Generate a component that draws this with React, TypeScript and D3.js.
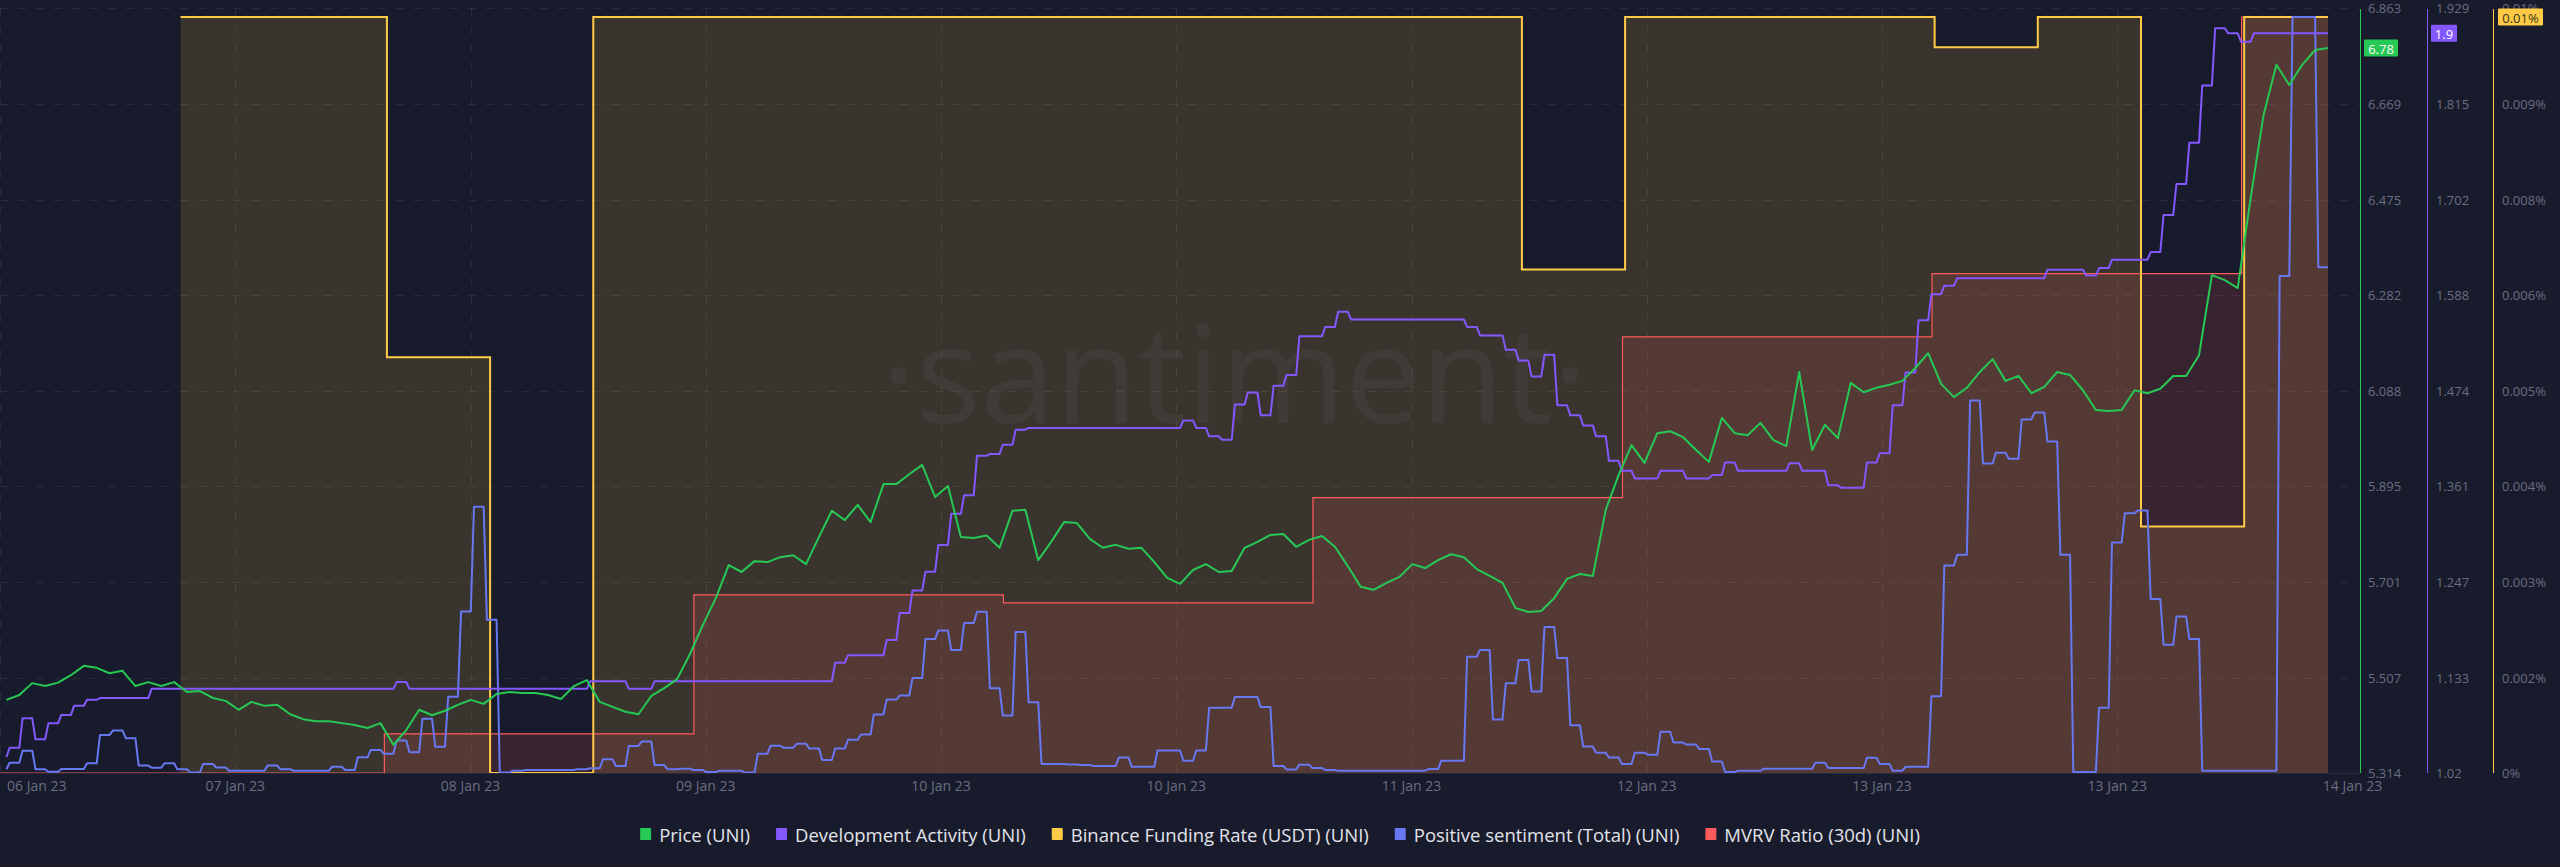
import React, { useMemo } from "react";
import * as d3 from "d3";

// ── Time grid ──────────────────────────────────────────────────────────────
const HOUR = 3600 * 1000;
const T0 = Date.UTC(2023, 0, 7, 0, 0); // first hourly sample
const X_START = T0 - 0.5 * HOUR;
const X_END = T0 + 180 * HOUR;
const X_TICK_STEP = 18.24 * HOUR;
const FUNDING_START = T0 + 13.5 * HOUR; // 8h funding periods
const MVRV_START = Date.UTC(2023, 0, 6, 5, 18); // daily values

// ── Data ───────────────────────────────────────────────────────────────────
const xTickLabels = [
  "06 Jan 23", "07 Jan 23", "08 Jan 23", "09 Jan 23", "10 Jan 23", "10 Jan 23",
  "11 Jan 23", "12 Jan 23", "13 Jan 23", "13 Jan 23", "14 Jan 23",
];
const priceTickLabels = ["5.314", "5.507", "5.701", "5.895", "6.088", "6.282", "6.475", "6.669", "6.863"];
const devTickLabels = ["1.02", "1.133", "1.247", "1.361", "1.474", "1.588", "1.702", "1.815", "1.929"];
const fundingTickLabels = ["0%", "0.002%", "0.003%", "0.004%", "0.005%", "0.006%", "0.008%", "0.009%", "0.01%"];

const seriesNames = [
  "Price (UNI)",
  "Development Activity (UNI)",
  "Binance Funding Rate (USDT) (UNI)",
  "Positive sentiment (Total) (UNI)",
  "MVRV Ratio (30d) (UNI)",
];
const seriesColors = ["#26C953", "#8358FF", "#FFCB47", "#6877F2", "#FF5B5B"];

// hourly, from 07 Jan 00:00
const price = [
  5.462, 5.472, 5.496, 5.490, 5.497, 5.512, 5.531, 5.527, 5.516, 5.521,
  5.490, 5.498, 5.490, 5.498, 5.478, 5.480, 5.466, 5.460, 5.442, 5.458,
  5.450, 5.452, 5.433, 5.423, 5.419, 5.419, 5.415, 5.411, 5.405, 5.415,
  5.371, 5.401, 5.442, 5.431, 5.440, 5.452, 5.462, 5.454, 5.474, 5.478,
  5.476, 5.476, 5.472, 5.464, 5.490, 5.502, 5.458, 5.448, 5.438, 5.433,
  5.470, 5.486, 5.504, 5.555, 5.614, 5.668, 5.735, 5.721, 5.743, 5.741,
  5.751, 5.755, 5.737, 5.792, 5.845, 5.826, 5.857, 5.822, 5.899, 5.899,
  5.919, 5.938, 5.873, 5.895, 5.792, 5.790, 5.795, 5.770, 5.845, 5.847,
  5.745, 5.782, 5.822, 5.820, 5.788, 5.770, 5.776, 5.768, 5.770, 5.741,
  5.709, 5.697, 5.725, 5.737, 5.721, 5.723, 5.770, 5.782, 5.796, 5.798,
  5.772, 5.786, 5.794, 5.772, 5.733, 5.691, 5.685, 5.699, 5.711, 5.737,
  5.729, 5.745, 5.757, 5.751, 5.727, 5.713, 5.699, 5.648, 5.640, 5.642,
  5.668, 5.707, 5.717, 5.713, 5.847, 5.917, 5.978, 5.942, 6.002, 6.006,
  5.994, 5.968, 5.944, 6.033, 6.002, 5.998, 6.023, 5.988, 5.976, 6.126,
  5.968, 6.019, 5.992, 6.104, 6.085, 6.094, 6.100, 6.108, 6.134, 6.164,
  6.102, 6.075, 6.094, 6.126, 6.152, 6.108, 6.118, 6.083, 6.096, 6.126,
  6.120, 6.089, 6.049, 6.047, 6.049, 6.089, 6.083, 6.092, 6.118, 6.118,
  6.160, 6.322, 6.312, 6.296, 6.478, 6.646, 6.748, 6.707, 6.748, 6.778, 6.782,
];

const devActivity = [
  1.039, 1.050, 1.085, 1.060, 1.079, 1.089, 1.100, 1.107, 1.109, 1.109,
  1.109, 1.109, 1.120, 1.120, 1.120, 1.120, 1.120, 1.120, 1.120, 1.120,
  1.120, 1.120, 1.120, 1.120, 1.120, 1.120, 1.120, 1.120, 1.120, 1.120,
  1.120, 1.128, 1.120, 1.120, 1.120, 1.120, 1.120, 1.120, 1.120, 1.120,
  1.120, 1.120, 1.120, 1.120, 1.120, 1.120, 1.129, 1.129, 1.129, 1.120,
  1.120, 1.129, 1.129, 1.129, 1.129, 1.129, 1.129, 1.129, 1.129, 1.129,
  1.129, 1.129, 1.129, 1.129, 1.129, 1.151, 1.160, 1.160, 1.160, 1.178,
  1.210, 1.237, 1.259, 1.291, 1.328, 1.350, 1.397, 1.399, 1.410, 1.428,
  1.430, 1.430, 1.430, 1.430, 1.430, 1.430, 1.430, 1.430, 1.430, 1.430,
  1.430, 1.430, 1.439, 1.430, 1.420, 1.416, 1.458, 1.472, 1.445, 1.480,
  1.493, 1.539, 1.539, 1.550, 1.568, 1.559, 1.559, 1.559, 1.559, 1.559,
  1.559, 1.559, 1.559, 1.559, 1.550, 1.540, 1.540, 1.523, 1.510, 1.491,
  1.517, 1.457, 1.445, 1.433, 1.420, 1.391, 1.379, 1.370, 1.370, 1.379,
  1.379, 1.370, 1.370, 1.374, 1.389, 1.379, 1.379, 1.379, 1.379, 1.388,
  1.379, 1.379, 1.362, 1.359, 1.359, 1.389, 1.400, 1.457, 1.496, 1.558,
  1.589, 1.599, 1.608, 1.608, 1.608, 1.608, 1.608, 1.608, 1.608, 1.618,
  1.618, 1.618, 1.611, 1.620, 1.630, 1.630, 1.630, 1.639, 1.683, 1.720,
  1.769, 1.837, 1.905, 1.899, 1.889, 1.899, 1.899, 1.899, 1.899, 1.899, 1.899,
];

const sentiment = [
  0.20, 0.54, 1.18, 0.20, 0.07, 0.21, 0.21, 0.51, 2.01, 2.24,
  1.84, 0.39, 0.28, 0.51, 0.20, 0.02, 0.48, 0.29, 0.12, 0.12,
  0.12, 0.39, 0.20, 0.12, 0.12, 0.12, 0.33, 0.16, 0.83, 1.22,
  1.01, 1.71, 1.10, 2.86, 1.39, 4.02, 8.53, 14.06, 8.09, 0.02,
  0.12, 0.16, 0.16, 0.16, 0.16, 0.20, 0.25, 0.72, 0.37, 1.43,
  1.66, 0.42, 0.20, 0.23, 0.16, 0.05, 0.12, 0.12, 0.02, 1.01,
  1.44, 1.33, 1.54, 1.29, 0.69, 1.29, 1.76, 2.03, 3.09, 3.88,
  4.09, 5.01, 7.07, 7.52, 6.50, 7.92, 8.52, 4.48, 3.03, 7.45,
  3.73, 0.48, 0.48, 0.45, 0.42, 0.37, 0.37, 0.82, 0.33, 0.33,
  1.19, 1.19, 0.65, 1.19, 3.45, 3.45, 4.01, 4.01, 3.48, 0.37,
  0.19, 0.44, 0.26, 0.16, 0.12, 0.12, 0.12, 0.12, 0.12, 0.12,
  0.12, 0.21, 0.65, 0.65, 6.14, 6.50, 2.82, 4.74, 5.97, 4.31,
  7.71, 6.07, 2.52, 1.40, 1.07, 0.82, 0.48, 1.07, 0.97, 2.18,
  1.61, 1.50, 1.27, 0.61, 0.05, 0.12, 0.12, 0.23, 0.23, 0.23,
  0.23, 0.54, 0.26, 0.26, 0.26, 0.80, 0.48, 0.12, 0.33, 0.33,
  4.05, 10.96, 11.53, 19.67, 16.34, 16.91, 16.59, 18.67, 19.03, 17.51,
  11.53, 0.05, 0.05, 3.45, 12.17, 13.72, 13.86, 9.19, 6.77, 8.26,
  7.07, 0.12, 0.12, 0.12, 0.12, 0.12, 0.12, 26.25, 39.92, 39.92, 26.70,
];

// 8h periods, in %
const fundingRate = [
  0.01, 0.01, 0.0055, 0, 0.01, 0.01, 0.01, 0.01, 0.01, 0.01, 0.01,
  0.01, 0.01, 0.00666, 0.01, 0.01, 0.01, 0.0096, 0.01, 0.00326, 0.01,
];

// daily, in %
const mvrv = [-4.0, -4.0, -3.17, -0.23, -0.4, 1.83, 5.23, 6.57, 12.0];

// ── Layout ─────────────────────────────────────────────────────────────────
const W = 2560;
const H = 867;
const PLOT_R = 2328;
const TOP = 8;
const BOTTOM = 773;
const SERIES_TOP = 17;
const AXIS_X = [2360, 2427, 2493];
const BG = "#181b2b";
const GRID = "rgba(255,255,255,0.07)";
const LABEL = "#6a6e83";
const FONT = '"Open Sans", "Noto Sans", sans-serif';
const LEGEND_FONT = 18.5;

// step with a short sloped transition right after each sample
function curvePlateau(context: any) {
  let x0 = NaN;
  let n = 0;
  return {
    areaStart() {},
    areaEnd() {},
    lineStart() { n = 0; },
    lineEnd() {},
    point(x: number, y: number) {
      if (n++ === 0) context.moveTo(x, y);
      else {
        context.lineTo(x0 + (x - x0) * 0.25, y);
        context.lineTo(x, y);
      }
      x0 = x;
    },
  };
}

type Pt = { t: number; v: number };

const App: React.FC = () => {
  const x = d3.scaleUtc().domain([new Date(X_START), new Date(X_END)]).range([0, PLOT_R]);
  const yPrice = d3.scaleLinear().domain([+priceTickLabels[0], +priceTickLabels[8]]).range([BOTTOM, TOP]);
  const yDev = d3.scaleLinear().domain([+devTickLabels[0], +devTickLabels[8]]).range([BOTTOM, TOP]);
  const yFund = d3.scaleLinear().domain([0, d3.max(fundingRate) as number]).range([BOTTOM, SERIES_TOP]);
  const ySent = d3.scaleLinear().domain([0, d3.max(sentiment) as number]).range([BOTTOM, SERIES_TOP]);
  const yMvrv = d3.scaleLinear().domain(d3.extent(mvrv) as [number, number]).range([BOTTOM, SERIES_TOP]);

  const hourly = (arr: number[]): Pt[] => arr.map((v, i) => ({ t: T0 + i * HOUR, v }));
  const pricePts = hourly(price);
  const devPts = hourly(devActivity);
  const sentPts = hourly(sentiment);
  const fundPts: Pt[] = fundingRate.map((v, k) => ({ t: FUNDING_START + k * 8 * HOUR, v }));
  fundPts.push({ t: X_END, v: fundingRate[fundingRate.length - 1] });
  const mvrvPts: Pt[] = mvrv.map((v, k) => ({ t: MVRV_START + k * 24 * HOUR, v }));
  mvrvPts.push({ t: X_END, v: mvrv[mvrv.length - 1] });

  const lineGen = (y: d3.ScaleLinear<number, number>, curve: any) =>
    d3.line<Pt>().x((d) => x(new Date(d.t))).y((d) => y(d.v)).curve(curve);
  const areaGen = (y: d3.ScaleLinear<number, number>) =>
    d3.area<Pt>().x((d) => x(new Date(d.t))).y0(BOTTOM).y1((d) => y(d.v)).curve(d3.curveStepAfter);

  const gridY = priceTickLabels.map((s) => yPrice(+s));
  const tickX = xTickLabels.map((_, k) => x(new Date(X_START + k * X_TICK_STEP)));

  // legend layout from measured text widths
  const legend = useMemo(() => {
    const ctx = document.createElement("canvas").getContext("2d")!;
    ctx.font = `${LEGEND_FONT}px ${FONT}`;
    const widths = seriesNames.map((s) => ctx.measureText(s).width);
    const sw = 11, gapIn = 8, gapOut = 26;
    const total = d3.sum(widths) + seriesNames.length * (sw + gapIn) + (seriesNames.length - 1) * gapOut;
    let cx = W / 2 - total / 2;
    return widths.map((w) => {
      const item = { x: cx };
      cx += sw + gapIn + w + gapOut;
      return item;
    });
  }, []);

  const lastPrice = price[price.length - 1];
  const lastDev = devActivity[devActivity.length - 1];
  const lastFund = fundingRate[fundingRate.length - 1];
  const badges = [
    { x: AXIS_X[0] + 4, y: yPrice(lastPrice), w: 34, text: d3.format(".2f")(lastPrice), fill: seriesColors[0], color: "#ffffff" },
    { x: AXIS_X[1] + 4, y: yDev(lastDev), w: 26, text: d3.format(".1f")(lastDev), fill: seriesColors[1], color: "#ffffff" },
    { x: AXIS_X[2] + 5, y: yFund(lastFund), w: 45, text: `${lastFund}%`, fill: seriesColors[2], color: "#3a3320" },
  ];

  return (
    <svg
      width={W}
      height={H}
      style={{ position: "absolute", left: 0, top: 0, display: "block", background: BG, fontFamily: FONT }}
    >
      <defs>
        <clipPath id="plot-clip">
          <rect x={0} y={0} width={PLOT_R} height={BOTTOM + 2} />
        </clipPath>
      </defs>
      <rect width={W} height={H} fill={BG} />

      {/* grid */}
      <g stroke={GRID} strokeWidth={1} strokeDasharray="8,10">
        {gridY.map((gy, i) => (
          <line key={`h${i}`} x1={0} x2={AXIS_X[0]} y1={Math.round(gy) + 0.5} y2={Math.round(gy) + 0.5} />
        ))}
        {tickX.filter((tx) => tx <= PLOT_R).map((tx, i) => (
          <line key={`v${i}`} x1={Math.round(tx) + 0.5} x2={Math.round(tx) + 0.5} y1={TOP} y2={BOTTOM} />
        ))}
      </g>

      <g clipPath="url(#plot-clip)">
        {/* filled areas */}
        <path d={areaGen(yFund)(fundPts) ?? ""} fill={seriesColors[2]} fillOpacity={0.15} />
        <path d={areaGen(yMvrv)(mvrvPts) ?? ""} fill={seriesColors[4]} fillOpacity={0.14} />

        {/* watermark */}
        <text
          x={1234}
          y={423}
          textAnchor="middle"
          fontSize={135}
          fill="#ffffff"
          fillOpacity={0.035}
          fontFamily={FONT}
        >
          ·santiment·
        </text>

        {/* lines */}
        <path d={lineGen(yMvrv, d3.curveStepAfter)(mvrvPts) ?? ""} fill="none" stroke={seriesColors[4]} strokeWidth={1.2} />
        <path d={lineGen(yFund, d3.curveStepAfter)(fundPts) ?? ""} fill="none" stroke={seriesColors[2]} strokeWidth={2} />
        <path d={lineGen(ySent, curvePlateau)(sentPts) ?? ""} fill="none" stroke={seriesColors[3]} strokeWidth={2} strokeLinejoin="round" />
        <path d={lineGen(yDev, curvePlateau)(devPts) ?? ""} fill="none" stroke={seriesColors[1]} strokeWidth={2} strokeLinejoin="round" />
        <path d={lineGen(yPrice, d3.curveLinear)(pricePts) ?? ""} fill="none" stroke={seriesColors[0]} strokeWidth={2} strokeLinejoin="round" />
      </g>

      {/* bottom edge */}
      <line x1={0} x2={AXIS_X[0]} y1={BOTTOM + 0.5} y2={BOTTOM + 0.5} stroke="#262a3c" strokeWidth={1} />

      {/* right axes */}
      {AXIS_X.map((ax, i) => (
        <line key={`ax${i}`} x1={ax + 0.5} x2={ax + 0.5} y1={TOP + 1} y2={BOTTOM} stroke={seriesColors[i]} strokeWidth={1} />
      ))}
      <g fontSize={13} fill={LABEL} dominantBaseline="central">
        {priceTickLabels.map((s, i) => (
          <text key={`p${i}`} x={AXIS_X[0] + 8} y={gridY[i]}>{s}</text>
        ))}
        {devTickLabels.map((s, i) => (
          <text key={`d${i}`} x={AXIS_X[1] + 9} y={gridY[i]}>{s}</text>
        ))}
        {fundingTickLabels.map((s, i) => (
          <text key={`f${i}`} x={AXIS_X[2] + 9} y={gridY[i]}>{s}</text>
        ))}
      </g>

      {/* last-value badges */}
      {badges.map((b, i) => (
        <g key={`b${i}`}>
          <rect x={b.x} y={b.y - 8.5} width={b.w} height={17} fill={b.fill} rx={1} />
          <text x={b.x + b.w / 2} y={b.y + 0.5} textAnchor="middle" dominantBaseline="central" fontSize={13} fill={b.color}>
            {b.text}
          </text>
        </g>
      ))}

      {/* x axis labels */}
      <g fontSize={14} fill={LABEL}>
        {tickX.map((tx, k) =>
          tx < 40 ? (
            <text key={`x${k}`} x={7} y={791}>{xTickLabels[k]}</text>
          ) : (
            <text key={`x${k}`} x={tx} y={791} textAnchor="middle">{xTickLabels[k]}</text>
          )
        )}
      </g>

      {/* legend */}
      <g fontSize={LEGEND_FONT} fill="#e2e4ec">
        {seriesNames.map((name, i) => (
          <g key={`l${i}`}>
            <rect x={legend[i].x} y={828} width={11} height={12} fill={seriesColors[i]} rx={1} />
            <text x={legend[i].x + 19} y={834} dominantBaseline="central">{name}</text>
          </g>
        ))}
      </g>
    </svg>
  );
};

export default App;
